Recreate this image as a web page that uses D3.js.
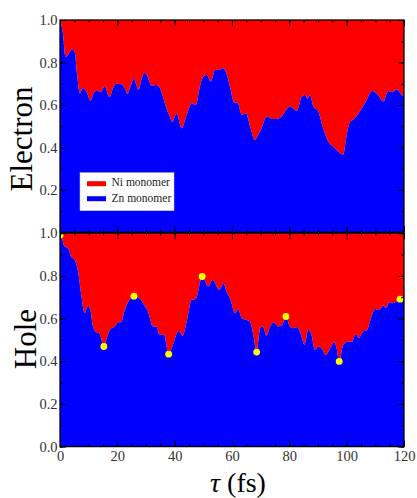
<!DOCTYPE html>
<html>
<head>
<meta charset="utf-8">
<script src="https://cdn.jsdelivr.net/npm/d3@7"></script>
<style>
  body { margin: 0; background: #fff; }
  svg { display: block; }
  text { font-family: "Liberation Serif", "DejaVu Serif", serif; }
</style>
</head>
<body>
<div id="chart"></div>
<script>
// Zn-monomer share (blue); Ni share (red) is the rest up to 1
var electronTau = [0, 1.0, 1.9, 2.8, 4.2, 5.1, 6.0, 6.9, 8.0, 9.2, 10.6, 12.1, 13.0, 14.1, 15.6, 17.3, 18.5, 19.6, 21.4, 22.6,
  23.5, 24.7, 25.7, 26.5, 27.4, 28.4, 29.5, 30.5, 31.9, 33.6, 34.8, 36.0, 37.1, 38.3, 39.1, 40.7, 42.4, 44.2, 45.9, 47.4,
  48.8, 50.0, 51.2, 52.6, 54.1, 55.5, 57.0, 58.0, 59.3, 60.7, 62.0, 63.4, 64.9, 66.3, 68.0, 69.0, 70.3, 72.1, 73.8, 75.5,
  77.3, 78.5, 80.2, 82.6, 84.3, 85.5, 86.3, 87.2, 88.4, 90.1, 91.8, 93.6, 95.3, 97.1, 98.8, 100.0, 101.2, 102.9, 104.6, 106.4,
  108.9, 111.0, 112.8, 114.5, 116.0, 117.4, 119.2, 120];
var electronZn = [1.0, 0.94, 0.827, 0.835, 0.862, 0.85, 0.74, 0.655, 0.68, 0.663, 0.62, 0.663, 0.667, 0.66, 0.686, 0.636, 0.678, 0.70, 0.697, 0.678,
  0.653, 0.69, 0.726, 0.70, 0.671, 0.72, 0.752, 0.735, 0.691, 0.694, 0.68, 0.635, 0.584, 0.545, 0.52, 0.56, 0.49, 0.553, 0.608, 0.60,
  0.686, 0.733, 0.741, 0.71, 0.765, 0.765, 0.773, 0.75, 0.686, 0.613, 0.61, 0.553, 0.561, 0.50, 0.435, 0.455, 0.49, 0.545, 0.534, 0.534,
  0.545, 0.569, 0.592, 0.572, 0.639, 0.647, 0.63, 0.647, 0.592, 0.569, 0.49, 0.427, 0.404, 0.38, 0.365, 0.459, 0.52, 0.537, 0.569, 0.608,
  0.666, 0.647, 0.616, 0.666, 0.66, 0.674, 0.647, 0.64];

var holeTau = [0, 0.5, 1.6, 2.8, 3.9, 5.1, 6.3, 7.4, 8.6, 9.8, 10.6, 11.5, 12.7, 13.8, 15.3, 16.7, 17.9, 19.0, 20.2, 21.3,
  22.6, 23.7, 25.8, 27.8, 29.3, 30.7, 32.4, 33.6, 34.8, 36.3, 37.9, 39.4, 41.3, 42.8, 44.2, 45.9, 47.4, 49.6, 51.7, 53.2,
  55.6, 57.0, 58.3, 59.5, 61.0, 62.2, 63.4, 64.8, 66.3, 67.5, 68.6, 69.8, 70.7, 72.1, 73.2, 74.6, 76.2, 77.5, 78.8, 80.2,
  81.4, 82.7, 84.1, 85.3, 86.6, 87.8, 88.9, 90.1, 91.3, 92.7, 94.2, 95.7, 96.5, 97.4, 98.8, 100.6, 101.8, 103.1, 104.3, 105.8,
  107.0, 108.5, 109.9, 111.3, 112.8, 113.8, 114.8, 116.0, 118.6, 120];
var holeZn = [1.0, 0.985, 0.938, 0.93, 0.89, 0.875, 0.82, 0.711, 0.625, 0.66, 0.64, 0.563, 0.536, 0.53, 0.469, 0.524, 0.555, 0.56, 0.583, 0.583,
  0.641, 0.677, 0.705, 0.695, 0.664, 0.633, 0.563, 0.563, 0.524, 0.524, 0.433, 0.477, 0.542, 0.52, 0.586, 0.688, 0.692, 0.797, 0.75, 0.781,
  0.734, 0.766, 0.72, 0.688, 0.625, 0.644, 0.602, 0.595, 0.586, 0.52, 0.443, 0.555, 0.563, 0.52, 0.56, 0.581, 0.563, 0.57, 0.61, 0.563,
  0.555, 0.56, 0.524, 0.477, 0.547, 0.52, 0.453, 0.469, 0.46, 0.43, 0.46, 0.489, 0.46, 0.399, 0.477, 0.493, 0.49, 0.527, 0.51, 0.54,
  0.545, 0.602, 0.645, 0.64, 0.661, 0.65, 0.677, 0.672, 0.691, 0.696];

// yellow markers on the hole curve
var markerTau = [0, 15.3, 25.8, 37.9, 49.6, 68.6, 78.8, 97.4, 118.6];
var markerZn = [0.99, 0.469, 0.705, 0.433, 0.797, 0.443, 0.61, 0.399, 0.691];

var xTicks = [0, 20, 40, 60, 80, 100, 120];
var yTicks = [0, 0.2, 0.4, 0.6, 0.8, 1.0];
var legendLabels = ["Ni monomer", "Zn monomer"];

var width = 417, height = 498;
var left = 60, right = 404;

var svg = d3.select("#chart")
  .append("svg")
  .attr("width", width)
  .attr("height", height);

var x = d3.scaleLinear().domain([0, 120]).range([left, right]);

var panels = [
  {name: "Electron", tau: electronTau, zn: electronZn, top: 20, bottom: 232.3, labelX: 32, labelY: 139, showX: false, hideZero: true},
  {name: "Hole", tau: holeTau, zn: holeZn, top: 233.2, bottom: 446.6, labelX: 36, labelY: 339, showX: true, hideZero: false}
];

panels.forEach(function(p, i) {
  var y = d3.scaleLinear().domain([0, 1]).range([p.bottom, p.top]);
  var g = svg.append("g");

  var clipId = "clip" + i;
  svg.append("defs").append("clipPath")
    .attr("id", clipId)
    .append("rect")
    .attr("x", left).attr("y", p.top)
    .attr("width", right - left).attr("height", p.bottom - p.top);

  var pts = p.tau.map(function(t, j) { return [t, p.zn[j]]; });

  var plot = g.append("g").attr("clip-path", "url(#" + clipId + ")");

  // Ni share: from curve up to 1
  plot.append("path")
    .datum(pts)
    .attr("fill", "#ff0000")
    .attr("d", d3.area()
      .curve(d3.curveMonotoneX)
      .x(function(d) { return x(d[0]); })
      .y0(function(d) { return y(1); })
      .y1(function(d) { return y(d[1]); }));

  // Zn share: from 0 to curve
  plot.append("path")
    .datum(pts)
    .attr("fill", "#0000ff")
    .attr("d", d3.area()
      .curve(d3.curveMonotoneX)
      .x(function(d) { return x(d[0]); })
      .y0(function(d) { return y(0); })
      .y1(function(d) { return y(d[1]); }));

  if (p.name == "Hole") {
    plot.selectAll("circle")
      .data(markerTau)
      .enter()
      .append("circle")
      .attr("cx", function(d) { return x(d); })
      .attr("cy", function(d, j) { return y(markerZn[j]); })
      .attr("r", 3.4)
      .attr("fill", "#ffff00");
  }

  // ticks pointing inward on all four sides
  var tickStroke = function(sel) {
    sel.select(".domain").remove();
    sel.selectAll(".tick line").attr("stroke", "#000").attr("stroke-width", 1);
  };

  var xMinor = d3.range(0, 121, 5);
  var yMinor = d3.range(0, 1.001, 0.1);

  g.append("g").attr("transform", "translate(0," + p.bottom + ")")
    .call(d3.axisTop(x).tickValues(xMinor).tickSize(3).tickFormat("")).call(tickStroke);
  g.append("g").attr("transform", "translate(0," + p.bottom + ")")
    .call(d3.axisTop(x).tickValues(xTicks).tickSize(6).tickFormat("")).call(tickStroke);
  g.append("g").attr("transform", "translate(0," + p.top + ")")
    .call(d3.axisBottom(x).tickValues(xMinor).tickSize(3).tickFormat("")).call(tickStroke);
  g.append("g").attr("transform", "translate(0," + p.top + ")")
    .call(d3.axisBottom(x).tickValues(xTicks).tickSize(6).tickFormat("")).call(tickStroke);

  g.append("g").attr("transform", "translate(" + left + ",0)")
    .call(d3.axisRight(y).tickValues(yMinor).tickSize(3).tickFormat("")).call(tickStroke);
  g.append("g").attr("transform", "translate(" + right + ",0)")
    .call(d3.axisLeft(y).tickValues(yMinor).tickSize(3).tickFormat("")).call(tickStroke);
  g.append("g").attr("transform", "translate(" + left + ",0)")
    .call(d3.axisRight(y).tickValues(yTicks).tickSize(6).tickFormat("")).call(tickStroke);
  g.append("g").attr("transform", "translate(" + right + ",0)")
    .call(d3.axisLeft(y).tickValues(yTicks).tickSize(6).tickFormat("")).call(tickStroke);

  // y tick labels
  var yLab = g.append("g").attr("transform", "translate(" + left + ",0)")
    .call(d3.axisLeft(y)
      .tickValues(p.hideZero ? yTicks.filter(function(v) { return v > 0; }) : yTicks)
      .tickSize(0).tickPadding(2.5).tickFormat(d3.format(".1f")));
  yLab.select(".domain").remove();
  yLab.selectAll("text")
    .attr("fill", "#333")
    .attr("font-size", "14.5px");

  if (p.showX) {
    var xLab = g.append("g").attr("transform", "translate(0," + p.bottom + ")")
      .call(d3.axisBottom(x).tickValues(xTicks).tickSize(0).tickPadding(4).tickFormat(d3.format("d")));
    xLab.select(".domain").remove();
    xLab.selectAll("text")
      .attr("fill", "#333")
      .attr("font-size", "14.5px");
  }

  // frame
  g.append("rect")
    .attr("x", left).attr("y", p.top)
    .attr("width", right - left).attr("height", p.bottom - p.top)
    .attr("fill", "none")
    .attr("stroke", "#000")
    .attr("stroke-width", 1.3);

  svg.append("text")
    .attr("transform", "translate(" + p.labelX + "," + p.labelY + ") rotate(-90)")
    .attr("text-anchor", "middle")
    .attr("font-size", "31px")
    .attr("fill", "#000")
    .text(p.name);
});

// x axis label
var xl = svg.append("text")
  .attr("x", 238)
  .attr("y", 492)
  .attr("text-anchor", "middle")
  .attr("font-size", "28px")
  .attr("fill", "#000");
xl.append("tspan").attr("font-style", "italic").text("τ");
xl.append("tspan").text(" (fs)");

// legend
var legend = svg.append("g").attr("transform", "translate(80,172.7)");
legend.append("rect")
  .attr("width", 94).attr("height", 38)
  .attr("fill", "#fff")
  .attr("stroke", "#ccc")
  .attr("stroke-width", 0.5);
var legendColors = ["#ff0000", "#0000ff"];
legendLabels.forEach(function(l, i) {
  legend.append("rect")
    .attr("x", 7).attr("y", 8.5 + i * 15)
    .attr("width", 19).attr("height", 5)
    .attr("fill", legendColors[i]);
  legend.append("text")
    .attr("x", 31.5).attr("y", 13.5 + i * 15.5)
    .attr("font-size", "11.5px")
    .attr("fill", "#222")
    .text(l);
});
</script>
</body>
</html>
